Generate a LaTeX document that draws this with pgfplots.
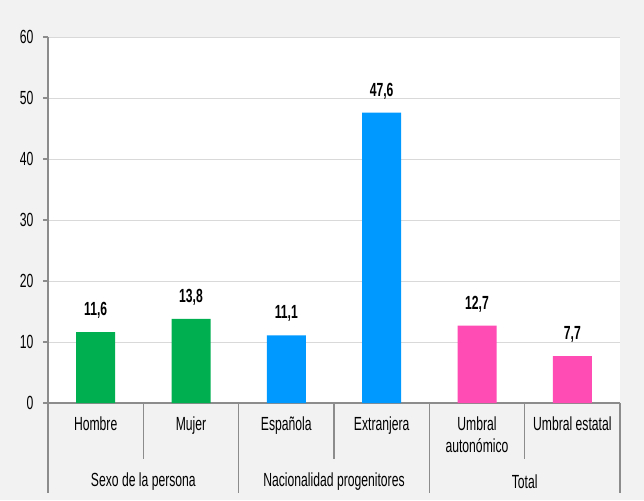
\documentclass[border=0pt]{standalone}
\usepackage{pgfplots}
\pgfplotsset{compat=1.18}
\usepackage{fontspec}
\setmainfont[FakeStretch=0.64]{Liberation Sans}
\definecolor{bg}{RGB}{242,242,242}
\definecolor{gridc}{RGB}{217,217,217}
\definecolor{axc}{RGB}{140,140,140}
\definecolor{cgreen}{RGB}{0,176,80}
\definecolor{cblue}{RGB}{0,153,255}
\definecolor{cpink}{RGB}{255,75,180}
\begin{document}
\begin{tikzpicture}[x=1pt,y=1pt]
\fill[bg] (-48,-97) rectangle (596,403);
\begin{axis}[
  at={(0,0)}, anchor=south west,
  scale only axis, width=572pt, height=366pt,
  xmin=0, xmax=6, ymin=0, ymax=60,
  axis background/.style={fill=white},
  axis x line*=bottom, axis y line*=left,
  axis line style={axc, line width=1.2pt},
  ytick={0,10,...,60},
  ymajorgrids, grid style={gridc, line width=1pt},
  y axis line style={-}, x axis line style={-},
  ytick pos=left, tick align=outside, major tick length=5pt,
  ytick style={axc, line width=1.2pt},
  yticklabel style={xshift=-6pt},
  /pgf/number format/assume math mode=true,
  xtick={0.5,1.5,2.5,3.5,4.5,5.5},
  xticklabels={Hombre,Mujer,Española,Extranjera,{Umbral\\autonómico},Umbral estatal},
  xticklabel style={align=center, anchor=north, yshift=-5pt},
  x tick style={draw=none},
  font=\fontsize{19}{22}\selectfont,
  tick label style={font=\fontsize{19}{22}\selectfont},
  clip=false,
  nodes near coords={\pgfmathprintnumber[use comma,fixed,fixed zerofill,precision=1]{\pgfplotspointmeta}},
  every node near coord/.append style={font=\fontsize{19}{22}\selectfont\bfseries, yshift=10pt},
]
\addplot[ybar, bar width=39pt, fill=cgreen, draw=none] coordinates {(0.5,11.6) (1.5,13.8)};
\addplot[ybar, bar width=39pt, fill=cblue, draw=none] coordinates {(2.5,11.1) (3.5,47.6)};
\addplot[ybar, bar width=39pt, fill=cpink, draw=none] coordinates {(4.5,12.7) (5.5,7.7)};
\foreach \x in {0,2,4,6} {
  \edef\tmp{\noexpand\draw[axc, line width=1.2pt] (axis cs:\x,0) -- ++(0,-90pt);}\tmp
}
\foreach \x in {1,3,5} {
  \edef\tmp{\noexpand\draw[axc, line width=1.2pt] (axis cs:\x,0) -- ++(0,-56pt);}\tmp
}
\node[font=\fontsize{19}{22}\selectfont] at ([yshift=-79pt]axis cs:1,0) {Sexo de la persona};
\node[font=\fontsize{19}{22}\selectfont] at ([yshift=-79pt]axis cs:3,0) {Nacionalidad progenitores};
\node[font=\fontsize{19}{22}\selectfont] at ([yshift=-79pt]axis cs:5,0) {Total};
\end{axis}
\end{tikzpicture}
\end{document}
